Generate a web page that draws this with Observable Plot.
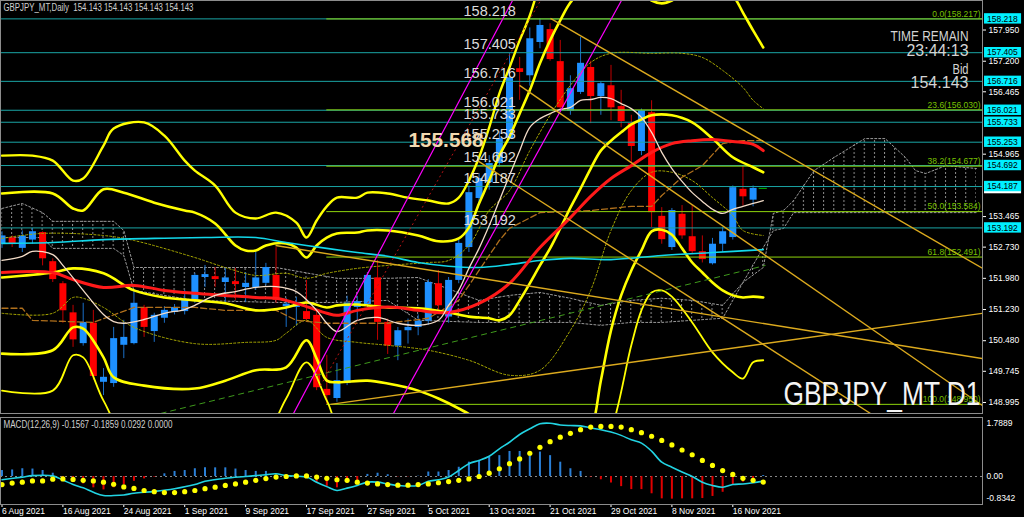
<!DOCTYPE html>
<html><head><meta charset="utf-8">
<script src="https://cdn.jsdelivr.net/npm/d3@7"></script>
<script src="https://cdn.jsdelivr.net/npm/@observablehq/plot@0.6"></script>
<style>
html,body{margin:0;padding:0;background:#000;}
#chart{position:relative;width:1024px;height:517px;overflow:hidden;background:#000;}
#main,#macd{position:absolute;left:0;}
#main{top:0;} #macd{top:414px;}
svg{display:block;}
</style></head>
<body><div id="chart"><div id="main"></div><div id="macd"></div></div>
<script>
// ---------------- DATA ----------------
const headerText = "GBPJPY_MT,Daily\u00a0 154.143 154.143 154.143 154.143";
const macdHeader = "MACD(12,26,9) -0.1567 -0.1859 0.0292 0.0000";
const timeRemain = "23:44:13";
const bidPrice = "154.143";
const symbolText = "GBPJPY_MT D1";
const markText = "155.568";

const dateTickIdx = [0,6,12,18,24,30,36,42,48,54,60,66,72];
const dateLabels = ["6 Aug 2021","16 Aug 2021","24 Aug 2021","1 Sep 2021","9 Sep 2021","17 Sep 2021","27 Sep 2021","5 Oct 2021","13 Oct 2021","21 Oct 2021","29 Oct 2021","8 Nov 2021","16 Nov 2021"];
const priceTicks = [157.950,157.200,156.465,154.965,153.465,152.730,151.980,151.230,150.480,149.745,148.995];

const candleOpen = [152.80,152.95,152.70,152.90,153.08,152.38,151.85,151.15,150.41,150.90,
 149.48,149.45,150.37,150.41,151.28,150.70,151.02,151.16,151.18,151.45,
 152.00,152.02,151.88,151.90,151.76,151.76,151.86,152.05,151.30,151.28,
 151.18,151.09,149.31,149.09,149.45,151.28,151.35,151.99,150.92,150.35,
 150.72,150.80,150.95,151.85,151.05,151.93,152.72,153.90,154.28,154.74,
 155.34,157.02,156.85,157.65,157.96,157.19,156.00,156.45,157.05,156.35,
 156.61,156.11,155.70,155.03,155.96,153.47,152.72,153.52,152.98,152.62,
 152.33,152.80,152.96,154.12,153.86,154.143];
const candleHigh = [153.10,153.00,153.12,153.18,153.10,152.45,151.90,151.33,151.38,151.21,
 149.81,150.80,150.97,151.69,151.33,151.14,151.30,151.35,151.69,152.10,
 152.29,152.24,152.22,152.22,152.12,152.60,152.34,152.72,151.50,151.52,
 151.93,151.21,150.13,149.93,151.55,151.55,152.12,152.41,151.00,150.80,
 151.00,151.10,151.95,152.17,152.00,152.90,154.20,154.50,154.93,155.50,
 157.38,157.29,158.00,158.218,158.10,157.70,156.85,157.77,157.20,156.70,
 157.10,156.50,155.90,156.05,156.25,153.68,153.66,153.73,153.73,153.00,
 152.94,153.20,154.20,154.69,154.20,154.143];
const candleLow = [152.70,152.72,152.60,152.80,152.28,151.88,150.90,150.32,150.35,149.53,
 149.16,149.36,150.05,150.38,150.56,150.44,150.90,151.10,151.10,151.38,
 151.76,151.76,151.38,151.45,151.40,151.69,151.80,151.38,150.80,150.83,
 150.95,149.28,148.95,149.00,149.40,150.95,151.28,150.49,150.15,150.00,
 150.40,150.60,150.85,151.20,150.90,151.85,152.60,153.75,154.10,154.65,
 155.30,156.26,156.60,157.50,157.20,156.00,155.90,156.40,155.70,155.90,
 155.77,155.60,154.76,154.93,153.20,152.80,152.65,152.92,152.55,152.35,
 152.30,152.60,152.90,153.72,153.70,154.143];
const candleClose = [153.00,152.80,153.00,153.10,152.45,151.95,151.20,150.50,150.92,149.62,
 149.60,150.53,150.56,151.38,150.80,151.09,151.21,151.28,151.47,152.05,
 152.07,151.95,151.99,151.83,151.86,151.99,152.24,151.45,151.36,151.40,
 150.99,149.35,149.16,149.52,151.38,151.42,152.05,150.92,150.35,150.72,
 150.80,150.95,151.88,151.32,151.93,152.82,154.04,154.38,154.74,155.34,
 156.80,156.93,157.74,158.06,157.24,156.08,156.54,157.15,156.35,156.66,
 156.08,155.75,155.15,156.01,153.56,152.91,153.61,153.00,152.62,152.43,
 152.80,153.10,154.16,153.94,154.143,154.143];

const hLevels = [158.218,157.405,156.716,156.021,155.733,155.253,154.692,154.187,153.192];
const fibLevels = [158.217,156.030,154.677,153.584,152.491,148.950];
const fibNames = ["0.0","23.6","38.2","50.0","61.8","100.0"];
const fibStartIdx = 32;

const redIdx = [0,5,7,10,13,16,19,22,25,27,28,30,32,33,35,37,39,41,44,47,50,53,56,58,60,62,64,66,68,70,72,74,75];
const redMA = [152.12,152.12,151.95,151.76,151.81,151.69,151.62,151.57,151.52,151.50,151.45,151.30,151.14,151.09,151.21,151.28,151.28,151.21,151.16,151.38,151.86,152.72,153.44,153.95,154.38,154.69,155.01,155.22,155.29,155.32,155.27,155.20,155.05];

const whiteIdx = [0,2,3,5,6,8,10,11,12,14,16,18,19,21,23,25,27,29,31,32,33,35,37,39,41,43,44,45,46,47,48,49,50,51,52,53,54,55,56,57,58,59,60,61,62,63,64,65,66,67,68,69,70,71,72,73,74,75];
const whiteMA = [152.41,152.51,152.63,152.55,152.29,151.69,151.11,150.94,150.90,150.99,151.14,151.23,151.33,151.57,151.66,151.76,151.78,151.66,151.21,150.90,150.70,150.97,151.04,150.90,150.85,150.97,151.33,151.69,152.22,152.70,153.25,153.85,154.45,155.05,155.61,155.82,155.94,156.04,156.09,156.26,156.28,156.33,156.30,156.18,156.06,155.85,155.49,155.01,154.62,154.31,154.04,153.83,153.64,153.54,153.64,153.71,153.78,153.85];

const cyanIdx = [0,5,10,15,20,25,28,32,35,38,41,44,47,50,53,56,60,65,70,75];
const cyanMA = [152.82,152.84,152.91,152.94,152.96,152.96,152.84,152.70,152.60,152.51,152.36,152.27,152.24,152.31,152.41,152.46,152.43,152.53,152.60,152.67];

const bbUp3Idx = [0,3,5,7,8,10,11,14,16,18,19,21,23,25,27,29,30,31,32,33,35,36,38,40,42,44,45,46,47,48,49,50,51,52,54,58,62,66,70,75];
const bbUp3 = [154.93,154.93,154.81,154.33,154.38,155.17,155.58,155.73,155.41,154.81,154.57,154.21,153.56,153.42,153.56,153.32,152.96,153.37,153.71,153.92,153.92,154.04,154.02,153.92,153.85,153.78,153.92,154.33,154.89,155.61,156.42,157.05,157.70,158.30,159.86,162.27,162.75,162.27,161.54,160.58];

const bbUp2Idx = [0,5,7,8,10,12,15,18,19,21,23,24,25,26,28,29,30,31,32,33,35,36,38,41,43,45,46,47,48,49,50,51,52,53,54,55,56,58,61,63,64,65,66,68,70,72,73,74,75];
const bbUp2 = [154.02,154.02,153.66,153.61,154.12,154.04,153.80,153.61,153.56,153.30,152.77,152.65,152.65,152.77,152.82,152.72,152.48,152.77,152.96,153.06,153.08,153.13,153.13,153.01,152.87,152.94,153.20,153.78,154.33,154.93,155.39,155.94,156.50,157.15,157.70,158.18,158.61,159.14,159.26,158.85,158.66,158.59,158.66,159.02,159.14,158.78,158.37,157.94,157.53];

const bbMidIdx = [0,5,7,10,13,16,19,22,25,28,30,32,33,35,38,41,44,46,48,49,50,51,52,53,54,55,56,57,58,59,60,61,62,63,64,66,68,70,72,74,75];
const bbMid = [152.00,152.12,152.22,152.10,151.69,151.52,151.45,151.38,151.21,151.28,151.40,151.28,151.33,151.35,151.28,151.26,151.16,151.06,151.02,150.97,151.09,151.45,151.86,152.29,152.70,153.18,153.68,154.14,154.62,155.05,155.29,155.49,155.68,155.80,155.90,155.90,155.73,155.34,154.89,154.65,154.53];

const bbLow2Idx = [0,5,7,8,10,11,14,19,22,25,28,30,31,32,33,36,38,41,43,45,47,49,52,55,57,58,59,60,61,62,63,64,65,66,67,68,69,70,71,72,73,74,75];
const bbLow2 = [150.17,150.25,150.80,150.77,150.08,149.60,149.40,149.33,149.52,149.77,149.84,150.49,150.05,149.52,149.48,149.52,149.45,149.28,149.09,148.85,148.56,148.08,147.36,147.36,148.08,148.32,149.52,150.73,151.57,152.17,152.65,153.11,153.15,153.03,152.70,152.36,152.12,151.88,151.69,151.57,151.52,151.54,151.52];

const bbLow3Idx = [0,5,7,8,10,12,20,26,28,30,32,34,50,58,60,62,63,64,65,66,68,70,72,73,74,75];
const bbLow3 = [149.28,149.28,150.13,150.08,149.04,148.32,148.08,148.32,149.09,149.96,149.04,148.08,146.64,147.36,148.32,150.37,151.21,151.64,151.69,151.54,150.92,150.20,149.72,149.57,149.96,150.01];

const bbUp1Idx = [0,4,10,13,19,22,25,28,30,32,35,38,42,44,46,48,50,52,54,56,58,60,64,67,69,71,73,74,75];
const bbUp1 = [152.94,153.06,153.01,152.89,152.48,152.24,152.05,152.10,151.98,152.10,152.22,152.29,152.36,152.41,152.77,153.61,154.09,155.05,155.90,156.62,157.17,157.39,157.39,157.39,157.29,156.98,156.57,156.26,156.06];

const bbLow1Idx = [0,5,7,8,10,13,19,24,27,28,30,32,35,38,42,46,50,53,56,58,60,62,64,66,68,70,72,73,75];
const bbLow1 = [151.14,151.14,151.52,151.50,151.28,150.80,150.41,150.44,150.49,150.66,150.97,150.56,150.44,150.37,150.25,150.01,149.65,149.77,150.73,151.69,153.13,154.09,154.53,154.53,154.33,153.92,153.49,153.13,153.01];

const kijunIdx = [0,2,3,9,13,19,22,27,29,32,38,42,45,47,49,50,53,58,62,64,65,67,69,71,73,75];
const kijun = [151.26,151.26,150.97,150.92,151.28,151.28,151.21,151.21,150.97,150.90,150.90,151.02,151.45,152.17,152.89,153.18,153.56,153.61,153.71,153.71,153.97,154.41,154.69,155.22,155.29,155.29];

const kumoIdx = [0,2,4,5,11,12,13,19,27,33,38,41,47,50,53,56,59,62,65,68,71,73,75,76,77,78,80,82,85,87,89,90,91,93,96];
const kumoA = [153.66,153.78,153.56,153.35,153.35,153.13,152.24,152.24,152.24,151.98,151.98,152.00,151.45,151.57,151.64,151.50,151.33,151.45,151.50,151.45,151.33,151.88,152.24,153.54,153.61,153.85,154.57,154.89,155.34,155.34,154.89,154.57,154.50,154.69,154.62];
const kumoB = [152.96,152.96,152.96,152.70,152.70,152.53,151.69,151.45,151.40,151.40,151.45,150.97,150.92,150.92,150.92,150.92,150.85,150.92,150.92,150.97,151.02,151.88,152.72,153.13,153.18,153.56,153.56,153.56,153.56,153.56,153.56,153.56,153.56,153.56,153.56];

// trend lines: [startIndex, startPrice, endIndex, endPrice]
const goldTrends = [[54.04,158.23,96.6,152.22],[50.99,156.62,96.6,148.92],[46.85,154.81,85.57,148.73],[26.95,152.77,96.6,150.05],[32.36,148.95,96.6,151.14]];
const magentaTrends = [[28.72,148.73,50.3,158.66],[38.57,148.73,61.03,158.66]];
const redDotTrends = [[31.38,149.40,53.06,158.66]];
const greenDashTrends = [[15.62,148.73,75.22,152.29]];

// MACD panel
const macdHist = [0.20,0.22,0.26,0.25,0.20,0.11,-0.05,-0.19,-0.25,-0.38,
 -0.45,-0.38,-0.27,-0.16,-0.08,-0.02,0.09,0.17,0.20,0.26,
 0.29,0.29,0.29,0.25,0.20,0.17,0.17,0.05,0.02,0.01,
 -0.03,-0.22,-0.33,-0.38,-0.22,-0.13,0.07,0.11,0.06,-0.01,
 -0.01,0.01,0.15,0.15,0.20,0.31,0.48,0.54,0.65,0.70,
 0.84,0.84,0.82,0.82,0.70,0.48,0.26,0.17,-0.02,-0.11,
 -0.22,-0.34,-0.44,-0.44,-0.58,-0.75,-0.76,-0.75,-0.75,-0.74,
 -0.67,-0.53,-0.30,-0.19,-0.08,0.0292];
const macdSignal = [-0.27,-0.22,-0.19,-0.15,-0.15,-0.09,-0.08,-0.10,-0.13,-0.15,
 -0.19,-0.26,-0.35,-0.40,-0.47,-0.51,-0.54,-0.54,-0.51,-0.47,
 -0.41,-0.36,-0.30,-0.25,-0.19,-0.13,-0.07,-0.02,0.00,0.02,
 0.02,-0.02,-0.06,-0.11,-0.13,-0.19,-0.22,-0.25,-0.27,-0.29,
 -0.29,-0.27,-0.25,-0.21,-0.17,-0.13,-0.08,0.00,0.11,0.26,
 0.43,0.59,0.78,0.98,1.17,1.32,1.45,1.57,1.66,1.68,
 1.68,1.66,1.57,1.47,1.35,1.21,1.06,0.89,0.73,0.54,
 0.37,0.20,0.07,-0.06,-0.13,-0.1859];
const macdIdx = [0,2,3,5,6,7,8,9,10,11,12,13,15,17,19,20,22,24,26,27,28,30,31,32,33,34,35,36,37,38,39,41,42,43,44,45,46,47,48,49,50,51,52,53,54,55,56,57,58,59,60,61,62,63,64,65,66,67,68,69,70,71,72,73,74,75];
const macdMain = [-0.11,-0.02,0.03,0.02,-0.12,-0.27,-0.38,-0.53,-0.64,-0.64,-0.62,-0.56,-0.50,-0.41,-0.27,-0.16,-0.06,0.00,0.06,0.09,0.03,-0.02,-0.19,-0.34,-0.47,-0.39,-0.30,-0.19,-0.19,-0.25,-0.30,-0.30,-0.16,-0.11,-0.02,0.20,0.43,0.54,0.68,0.93,1.15,1.41,1.60,1.77,1.7889,1.73,1.71,1.70,1.63,1.57,1.49,1.38,1.23,1.12,0.85,0.48,0.31,0.15,0.00,-0.19,-0.30,-0.36,-0.27,-0.25,-0.21,-0.1567];
const macdLabels = [1.7889, 0, -0.8342];

// ---------------- LAYOUT / STYLE ----------------
const BAR = 10.15;
const X0 = -1.5 / BAR, X1 = (982 - 1.5) / BAR;
const BULL = "#1e90ff", BEAR = "#ff0000", YEL = "#ffff00", GOLD = "#dcaa1e";
const FONT = "'Liberation Sans', Arial, sans-serif";
const NARROW = "'Liberation Sans Narrow', 'Arial Narrow', 'Liberation Sans', Arial, sans-serif";
const f3 = d3.format(".3f");
const S = (idx, vals) => idx.map((i, k) => ({i, v: vals[k]}));
const T = arr => arr.map(([a, b, c, d]) => ({x1: a, y1: b, x2: c, y2: d}));
const ln = (idx, vals, o) => Plot.line(S(idx, vals), {x: "i", y: "v", curve: "catmull-rom", clip: true, ...o});

const candles = candleOpen.map((o, i) => ({i, o, h: candleHigh[i], l: candleLow[i], c: candleClose[i]}));
const done = candles.slice(0, candles.length - 1);
const bull = done.filter(d => d.c >= d.o), bear = done.filter(d => d.c < d.o);
const current = candles.slice(candles.length - 1);
const kumo = kumoIdx.map((i, k) => ({i, a: kumoA[k], b: kumoB[k]}));

const infoText = (label, dy, size) => Plot.text([label], {frameAnchor: "top-right", dx: -14, dy, lineAnchor: "middle", text: d => d, textAnchor: "end", fill: "#d4d4d4", fontSize: size, fontFamily: NARROW});

const mainPlot = Plot.plot({
  width: 1024, height: 414, marginLeft: 0, marginRight: 42, marginTop: 0, marginBottom: 1,
  x: {domain: [X0, X1], axis: null, label: null},
  y: {domain: [148.73, 158.66], axis: null, label: null},
  style: {background: "#000", color: "#fff", fontFamily: FONT, fontSize: "9px"},
  marks: [
    Plot.areaY(kumo, {x: "i", y1: "a", y2: "b", fill: "url(#kumoHatch)", clip: true}),
    Plot.line(kumo, {x: "i", y: "a", stroke: "#9a9a9a", strokeDasharray: "2,2", strokeWidth: 1, clip: true}),
    Plot.line(kumo, {x: "i", y: "b", stroke: "#9a9a9a", strokeDasharray: "2,2", strokeWidth: 1, clip: true}),
    Plot.ruleX(bull, {x: "i", y1: "l", y2: "h", stroke: "#1a6fc8", strokeWidth: 1}),
    Plot.ruleX(bear, {x: "i", y1: "l", y2: "h", stroke: "#c00000", strokeWidth: 1}),
    Plot.ruleX(bull, {x: "i", y1: "o", y2: "c", stroke: BULL, strokeWidth: 7}),
    Plot.ruleX(bear, {x: "i", y1: "o", y2: "c", stroke: BEAR, strokeWidth: 7}),
    Plot.ruleY(current, {y: "c", x1: d => d.i - 0.4, x2: d => d.i + 0.4, stroke: "#00c000", strokeWidth: 1}),
    Plot.ruleY(hLevels, {stroke: "#1aa5a5", strokeWidth: 1}),
    Plot.ruleY(fibLevels, {x1: fibStartIdx, x2: X1, stroke: "#8ed40c", strokeWidth: 1}),
    ln(bbUp1Idx, bbUp1, {stroke: "#a8a800", strokeWidth: 1, strokeDasharray: "2,2"}),
    ln(bbLow1Idx, bbLow1, {stroke: "#a8a800", strokeWidth: 1, strokeDasharray: "2,2"}),
    ln(kijunIdx, kijun, {stroke: "#b0701c", strokeWidth: 1.3, strokeDasharray: "6,3", curve: "linear"}),
    ln(bbUp3Idx, bbUp3, {stroke: YEL, strokeWidth: 2.4}),
    ln(bbUp2Idx, bbUp2, {stroke: YEL, strokeWidth: 2.6}),
    ln(bbMidIdx, bbMid, {stroke: YEL, strokeWidth: 2.6}),
    ln(bbLow2Idx, bbLow2, {stroke: YEL, strokeWidth: 2.6}),
    ln(bbLow3Idx, bbLow3, {stroke: YEL, strokeWidth: 1.8}),
    ln(cyanIdx, cyanMA, {stroke: "#12d8ea", strokeWidth: 1.6}),
    ln(redIdx, redMA, {stroke: "#ff1a1a", strokeWidth: 3}),
    ln(whiteIdx, whiteMA, {stroke: "#f3dcc8", strokeWidth: 1.3}),
    Plot.link(T(greenDashTrends), {x1: "x1", y1: "y1", x2: "x2", y2: "y2", stroke: "#3f9a1c", strokeWidth: 1, strokeDasharray: "6,4", clip: true}),
    Plot.link(T(redDotTrends), {x1: "x1", y1: "y1", x2: "x2", y2: "y2", stroke: "#b81414", strokeWidth: 1, strokeDasharray: "2,3", clip: true}),
    Plot.link(T(magentaTrends), {x1: "x1", y1: "y1", x2: "x2", y2: "y2", stroke: "#ff00ff", strokeWidth: 1.2, clip: true}),
    Plot.link(T(goldTrends), {x1: "x1", y1: "y1", x2: "x2", y2: "y2", stroke: GOLD, strokeWidth: 1.4, clip: true}),
    // fibonacci labels
    Plot.text(fibLevels, {x: X1, y: d => d, text: (d, k) => `${fibNames[k]}(${f3(d)})`, textAnchor: "end", dx: -2, dy: -5, fill: "#78c000", fontSize: 8.5}),
    // horizontal line labels
    Plot.text(hLevels, {x: (463 - 1.5) / BAR, y: d => d, text: d => f3(d), textAnchor: "start", dy: -8, fill: "#dcdcdc", fontSize: 14.5}),
    Plot.text([markText], {x: (408 - 1.5) / BAR, y: 155.29, text: d => d, textAnchor: "start", fill: "#f2d9b0", fontSize: 20, fontWeight: "bold"}),
    // right price axis
    Plot.axisY(priceTicks, {anchor: "right", tickSize: 3, tickPadding: 3, tickFormat: f3, fill: "#ffffff", stroke: "#ffffff", fontSize: 8.5, label: null}),
    Plot.rect([154.143], {x1: X1 + 0.2, x2: X1 + 3.85, y1: d => d - 0.13, y2: d => d + 0.13, fill: "#ffffff"}),
    Plot.rect(hLevels, {x1: X1 + 0.2, x2: X1 + 3.85, y1: d => d - 0.125, y2: d => d + 0.125, fill: "#00f0ff"}),
    Plot.text(hLevels, {x: X1 + 0.45, y: d => d, text: d => f3(d), textAnchor: "start", fill: "#000", fontSize: 8.5}),
    // info texts
    Plot.text([headerText], {frameAnchor: "top-left", dx: 3, dy: 7, lineAnchor: "middle", text: d => d, textAnchor: "start", fill: "#cfcfcf", fontSize: 10}),
    infoText("TIME REMAIN", 36.5, 14),
    infoText(timeRemain, 50, 17),
    infoText("Bid", 68.5, 15),
    infoText(bidPrice, 82, 17),
    Plot.text([symbolText], {frameAnchor: "bottom-right", dx: -2, dy: -19, lineAnchor: "middle", text: d => d, textAnchor: "end", fill: "#f4f4f4", fontSize: 33, fontFamily: NARROW}),
    Plot.frame({stroke: "#8c8c8c"})
  ]
});

const histPos = macdHist.map((v, i) => ({i, v})).filter(d => d.v >= 0);
const histNeg = macdHist.map((v, i) => ({i, v})).filter(d => d.v < 0);
const dateMap = new Map(dateTickIdx.map((d, k) => [d, dateLabels[k]]));

const macdPlot = Plot.plot({
  width: 1024, height: 103, marginLeft: 0, marginRight: 42, marginTop: 3, marginBottom: 13,
  x: {domain: [X0, X1], axis: null, label: null},
  y: {domain: [-0.94, 1.98], axis: null, label: null},
  style: {background: "#000", color: "#fff", fontFamily: FONT, fontSize: "9px"},
  marks: [
    Plot.ruleY([0], {stroke: "#8a8a8a", strokeDasharray: "2,3"}),
    Plot.ruleX(histPos, {x: "i", y1: 0, y2: "v", stroke: "#2a7fd6", strokeWidth: 2}),
    Plot.ruleX(histNeg, {x: "i", y1: 0, y2: "v", stroke: "#e00000", strokeWidth: 2}),
    Plot.line(S(macdIdx, macdMain), {x: "i", y: "v", stroke: "#22d3e2", strokeWidth: 1.6, curve: "catmull-rom"}),
    Plot.dot(macdSignal.map((v, i) => ({i, v})), {x: "i", y: "v", r: 2.6, fill: "#ffff00", stroke: "none"}),
    Plot.text([macdHeader], {frameAnchor: "top-left", dx: 3, dy: 7, lineAnchor: "middle", text: d => d, textAnchor: "start", fill: "#cfcfcf", fontSize: 10}),
    Plot.text(macdLabels.slice(0, 2), {y: d => d, frameAnchor: "right", dx: 4, text: d => d === 0 ? "0.00" : d.toFixed(4), textAnchor: "start", fill: "#fff", fontSize: 8.5}),
    Plot.text(macdLabels.slice(2), {y: d => d, frameAnchor: "right", dx: 4, dy: -3, text: d => d.toFixed(4), textAnchor: "start", fill: "#fff", fontSize: 8.5}),
    Plot.axisX(dateTickIdx, {anchor: "bottom", tickSize: 3, tickPadding: 0, textAnchor: "start", tickFormat: d => dateMap.get(d), fill: "#fff", stroke: "#fff", fontSize: 8.5, label: null}),
    Plot.frame({stroke: "#8c8c8c"})
  ]
});

document.getElementById("main").appendChild(mainPlot);
document.getElementById("macd").appendChild(macdPlot);

// hatch pattern for the cloud
const defs = d3.select(mainPlot).insert("defs", ":first-child");
const pat = defs.append("pattern").attr("id", "kumoHatch").attr("patternUnits", "userSpaceOnUse")
  .attr("x", 1).attr("y", 0).attr("width", BAR).attr("height", 4);
pat.append("rect").attr("x", 0).attr("y", 0).attr("width", 1).attr("height", 2).attr("fill", "#8e8e8e");

// fit some texts to their measured widths in the reference
const fit = new Map([["TIME REMAIN", 78], [timeRemain, 62], ["Bid", 16], [bidPrice, 58], [symbolText, 197], [headerText, 190], [macdHeader, 169], [markText, 75]]);
for (const svg of [mainPlot, macdPlot]) {
  d3.select(svg).selectAll("text").each(function () {
    const w = fit.get(this.textContent);
    if (w) { this.setAttribute("textLength", w); this.setAttribute("lengthAdjust", "spacingAndGlyphs"); }
  });
}
</script></body></html>
